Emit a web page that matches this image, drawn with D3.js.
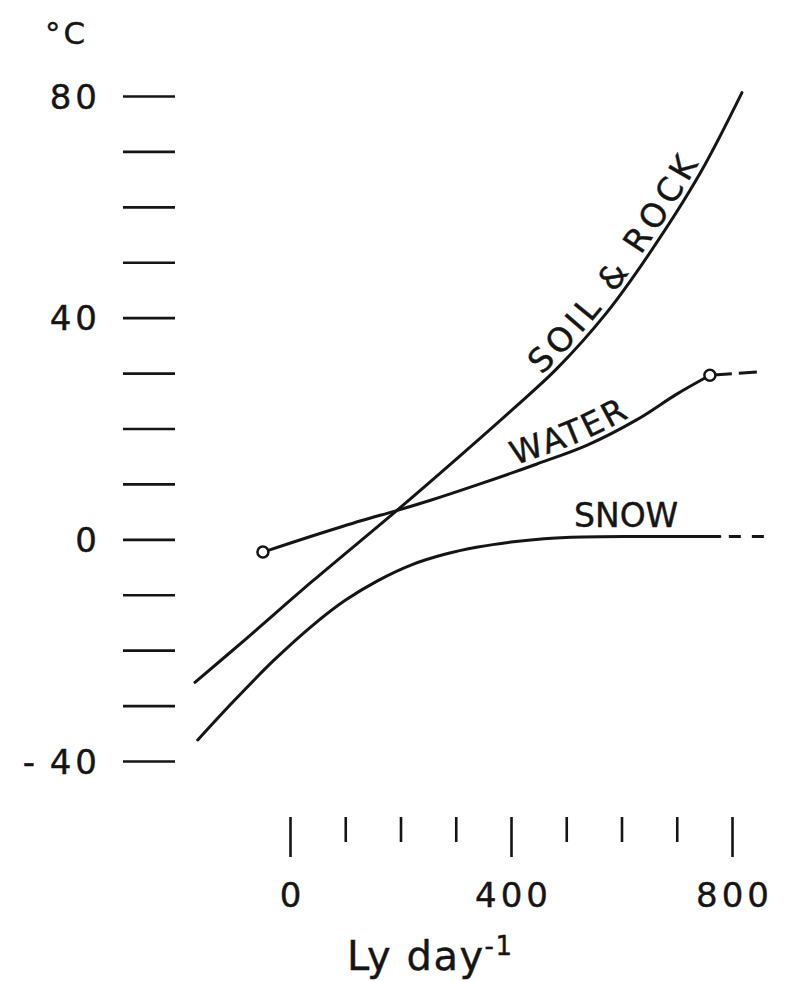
<!DOCTYPE html>
<html>
<head>
<meta charset="utf-8">
<script src="https://cdn.jsdelivr.net/npm/d3@7"></script>
<style>
  body { margin: 0; background: #fff; }
  svg text { font-family: "DejaVu Sans", sans-serif; fill: #151515; stroke: #151515; stroke-width: 0.4; }
</style>
</head>
<body>
<svg id="chart" width="785" height="981"></svg>
<script>
// values (x in Ly day-1, y in °C)
const soilX = [-172, -80, 40, 192, 300, 400, 483, 574, 652, 742, 818];
const soilY = [-25.8, -18.0, -7.6, 5.1, 14.4, 23.2, 30.8, 41.0, 51.8, 66.0, 80.6];

const waterX = [-49, 40, 130, 190, 253, 344, 447, 538, 628, 700, 760];
const waterY = [-2.3, 0.6, 3.4, 5.1, 7.0, 10.0, 13.6, 17.0, 21.6, 26.2, 29.6];
const waterDashX = [760, 845];
const waterDashY = [29.6, 30.2];

const snowX = [-167, -100, -30, 40, 100, 160, 220, 280, 340, 400, 460, 530, 620, 778];
const snowY = [-36.2, -29.0, -21.9, -15.6, -11.0, -7.4, -4.6, -2.7, -1.4, -0.5, 0.1, 0.4, 0.5, 0.5];
const snowDashX = [778, 863];
const snowDashY = [0.5, 0.5];

const yTicks = d3.range(-40, 81, 10);
const yLabels = [-40, 0, 40, 80];
const xTicks = d3.range(0, 801, 100);
const xLabels = [0, 400, 800];

let svg = d3.select("#chart");
let ink = "#151515";

let x = d3.scaleLinear().domain([0, 800]).range([290, 732]);
let y = d3.scaleLinear().domain([-40, 80]).range([761, 96]);

// y axis: detached dashes, labels every 40
let yAxis = d3.axisLeft(y)
    .tickValues(yTicks)
    .tickSize(52)
    .tickPadding(22)
    .tickFormat(d => yLabels.includes(d) ? (d < 0 ? "-\u2009" + Math.abs(d) : String(d)) : "");
let gy = svg.append("g").attr("transform", "translate(175,0)").call(yAxis);
gy.select(".domain").remove();
gy.selectAll(".tick line").attr("stroke", ink).attr("stroke-width", 2.6);
gy.selectAll(".tick text")
    .attr("font-size", 34)
    .attr("letter-spacing", 4)
    .attr("dy", "0.36em")
    .style("font-family", "DejaVu Sans, sans-serif")
    .attr("fill", ink);

// x axis: vertical ticks, long ones at labelled values
let xAxis = d3.axisBottom(x)
    .tickValues(xTicks)
    .tickSize(24)
    .tickFormat(d => xLabels.includes(d) ? String(d) : "");
let gx = svg.append("g").attr("transform", "translate(0,817)").call(xAxis);
gx.select(".domain").remove();
gx.selectAll(".tick line")
    .attr("stroke", ink).attr("stroke-width", 2.6)
    .attr("y2", d => xLabels.includes(d) ? 40 : 25);
gx.selectAll(".tick text")
    .attr("y", 90).attr("dy", 0)
    .attr("dx", 2)
    .attr("font-size", 34)
    .attr("letter-spacing", 4)
    .style("font-family", "DejaVu Sans, sans-serif")
    .attr("fill", ink);

// axis titles
svg.append("text").attr("x", 45).attr("y", 44)
    .attr("font-size", 31).attr("letter-spacing", 3).text("°C");

let xt = svg.append("text").attr("x", 347).attr("y", 970)
    .attr("font-size", 40).attr("letter-spacing", 1.5);
xt.append("tspan").text("Ly day");
xt.append("tspan").attr("font-size", 26).attr("dy", -15).text("-1");

// curves
let line = d3.line()
    .x(d => x(d[0]))
    .y(d => y(d[1]))
    .curve(d3.curveCatmullRom.alpha(0.5));

function pts(xs, ys) { return xs.map((v, i) => [v, ys[i]]); }

function drawCurve(id, xs, ys, dash) {
    return svg.append("path")
        .attr("id", id)
        .attr("d", line(pts(xs, ys)))
        .attr("fill", "none")
        .attr("stroke", ink)
        .attr("stroke-width", 3)
        .attr("stroke-linecap", "round")
        .attr("stroke-dasharray", dash || null);
}

let soilPath = drawCurve("soil", soilX, soilY);
let waterPath = drawCurve("water", waterX, waterY);
drawCurve("waterDash", waterDashX, waterDashY, "22,7,19,40").attr("stroke-linecap", "butt");
drawCurve("snow", snowX, snowY);
drawCurve("snowDash", snowDashX, snowDashY, "12,11").attr("stroke-dashoffset", 14).attr("stroke-linecap", "butt");

// open circles at the ends of the water curve
svg.selectAll("circle.end")
    .data([[waterX[0], waterY[0]], [waterX[waterX.length - 1], waterY[waterY.length - 1]]])
    .enter().append("circle")
    .attr("cx", d => x(d[0]))
    .attr("cy", d => y(d[1]))
    .attr("r", 5.5)
    .attr("fill", "#fff")
    .attr("stroke", ink)
    .attr("stroke-width", 2.5);

// find path length where the curve reaches a given pixel x
function lengthAtX(node, px) {
    let total = node.getTotalLength();
    let lo = 0, hi = total;
    for (let i = 0; i < 40; i++) {
        let mid = (lo + hi) / 2;
        if (node.getPointAtLength(mid).x < px) lo = mid; else hi = mid;
    }
    return lo;
}

// curve labels
svg.append("text")
    .attr("font-size", 33).attr("letter-spacing", 5).attr("dy", -6)
    .append("textPath")
    .attr("href", "#soil")
    .attr("startOffset", lengthAtX(soilPath.node(), 546))
    .text("SOIL & ROCK");

svg.append("text")
    .attr("font-size", 33).attr("letter-spacing", 2.5).attr("dy", -6)
    .append("textPath")
    .attr("href", "#water")
    .attr("startOffset", lengthAtX(waterPath.node(), 517))
    .text("WATER");

svg.append("text")
    .attr("x", 574).attr("y", 527)
    .attr("font-size", 33)
    .text("SNOW");
</script>
</body>
</html>
